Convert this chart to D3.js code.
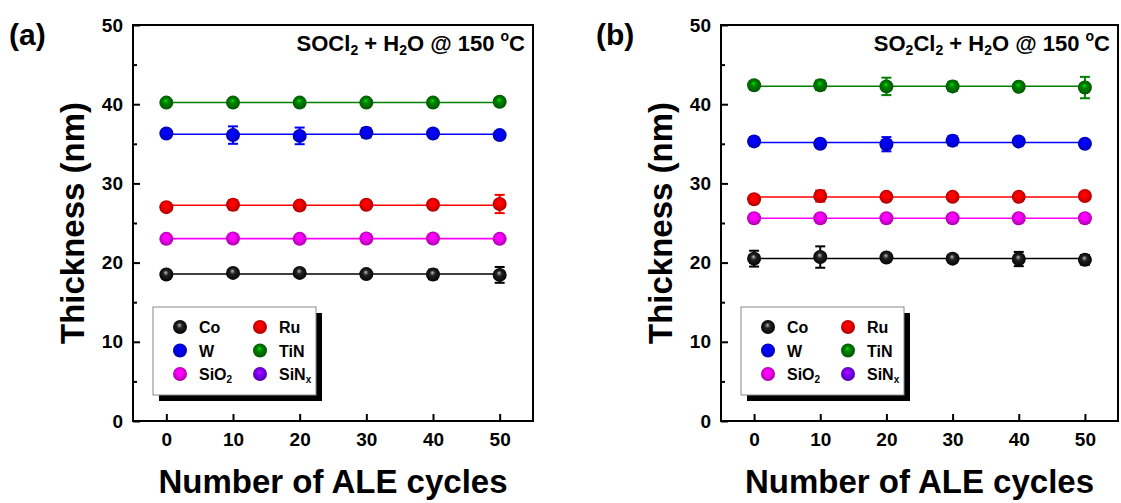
<!DOCTYPE html>
<html>
<head>
<meta charset="utf-8">
<script src="https://cdn.jsdelivr.net/npm/d3@7"></script>
<style>
    body { margin: 0; background: #fff; }
    svg { display: block; font-family: 'Liberation Sans', Arial, sans-serif; font-weight: bold; }
</style>
</head>
<body>
<div id="chart"></div>
<script>
// x values (ALE cycles)
const cycles = [0, 10, 20, 30, 40, 50];
const yTicks = [0, 10, 20, 30, 40, 50];
const yMinorTicks = [5, 15, 25, 35, 45];

// Panel (a): SOCl2 + H2O
const aTiN = [40.2, 40.2, 40.2, 40.2, 40.2, 40.3];
const aTiNErr = [0.3, 0.3, 0.3, 0.3, 0.3, 0.4];
const aW = [36.3, 36.1, 36.0, 36.4, 36.3, 36.1];
const aWErr = [0.3, 1.1, 1.05, 0.6, 0.4, 0.3];
const aRu = [27.0, 27.3, 27.2, 27.3, 27.3, 27.4];
const aRuErr = [0.3, 0.6, 0.4, 0.3, 0.3, 1.15];
const aSiO2 = [23.0, 23.05, 23.0, 23.05, 23.05, 23.0];
const aSiO2Err = [0.3, 0.5, 0.3, 0.5, 0.4, 0.3];
const aCo = [18.5, 18.7, 18.7, 18.55, 18.5, 18.45];
const aCoErr = [0.4, 0.3, 0.3, 0.4, 0.6, 1.0];

// Panel (b): SO2Cl2 + H2O
const bTiN = [42.4, 42.4, 42.25, 42.25, 42.2, 42.1];
const bTiNErr = [0.3, 0.6, 1.1, 0.6, 0.3, 1.35];
const bW = [35.3, 35.0, 34.95, 35.4, 35.3, 35.0];
const bWErr = [0.5, 0.3, 0.9, 0.6, 0.4, 0.3];
const bRu = [28.0, 28.4, 28.3, 28.3, 28.3, 28.4];
const bRuErr = [0.3, 0.7, 0.4, 0.4, 0.4, 0.3];
const bSiO2 = [25.6, 25.6, 25.6, 25.6, 25.6, 25.6];
const bSiO2Err = [0.3, 0.4, 0.3, 0.4, 0.3, 0.3];
const bCo = [20.5, 20.7, 20.65, 20.5, 20.45, 20.35];
const bCoErr = [1.0, 1.35, 0.4, 0.4, 0.9, 0.6];

// legend entries, row by row
const legendNames = ['Co', 'Ru', 'W', 'TiN', 'SiO2', 'SiNx'];

const colors = {
    Co: '#000000',
    Ru: '#ff0000',
    W: '#0000ff',
    TiN: '#008000',
    SiO2: '#ff00ff',
    SiNx: '#8000ff'
};

const width = 1121, height = 503;
const plotTop = 25, plotBottom = 421;

const svg = d3.select('#chart').append('svg')
    .attr('width', width)
    .attr('height', height);

// ball-like marker gradients
const defs = svg.append('defs');
Object.keys(colors).forEach(name => {
    const c = colors[name];
    const g = defs.append('radialGradient')
        .attr('id', `ball-${name}`)
        .attr('cx', '50%').attr('cy', '50%').attr('r', '55%')
        .attr('fx', '45%').attr('fy', '35%');
    g.append('stop').attr('offset', '0%').attr('stop-color', name === 'Co' ? '#bbbbbb' : d3.color(c).brighter(1.6).formatHex());
    g.append('stop').attr('offset', '35%').attr('stop-color', name === 'Co' ? '#222222' : c);
    g.append('stop').attr('offset', '100%').attr('stop-color', d3.color(c).darker(1.3).formatHex());
});

const panels = [
    {
        left: 133, right: 533, label: '(a)', labelX: 9,
        title: [['SOCl', 0], ['2', 1], [' + H', 0], ['2', 1], ['O @ 150 ', 0], ['o', 2], ['C', 0]],
        series: [
            { name: 'TiN', values: aTiN, errors: aTiNErr },
            { name: 'W', values: aW, errors: aWErr },
            { name: 'Ru', values: aRu, errors: aRuErr },
            { name: 'SiO2', values: aSiO2, errors: aSiO2Err },
            { name: 'Co', values: aCo, errors: aCoErr }
        ]
    },
    {
        left: 721, right: 1118, label: '(b)', labelX: 596,
        title: [['SO', 0], ['2', 1], ['Cl', 0], ['2', 1], [' + H', 0], ['2', 1], ['O @ 150 ', 0], ['o', 2], ['C', 0]],
        series: [
            { name: 'TiN', values: bTiN, errors: bTiNErr },
            { name: 'W', values: bW, errors: bWErr },
            { name: 'Ru', values: bRu, errors: bRuErr },
            { name: 'SiO2', values: bSiO2, errors: bSiO2Err },
            { name: 'Co', values: bCo, errors: bCoErr }
        ]
    }
];

// writes text with sub/superscripts: part[1] = 0 normal, 1 sub, 2 super
function richText(sel, parts, big, small) {
    parts.forEach(([t, kind]) => {
        const ts = sel.append('tspan').text(t);
        if (kind === 1) ts.attr('font-size', small).attr('baseline-shift', '-28%');
        if (kind === 2) ts.attr('font-size', small).attr('baseline-shift', '70%');
        if (kind === 0) ts.attr('font-size', big);
    });
}

function legendLabel(name) {
    if (name === 'SiO2') return [['SiO', 0], ['2', 1]];
    if (name === 'SiNx') return [['SiN', 0], ['x', 1]];
    return [[name, 0]];
}

panels.forEach(p => {
    const x = d3.scaleLinear().domain([-5, 55]).range([p.left, p.right]);
    const y = d3.scaleLinear().domain([0, 50]).range([plotBottom, plotTop]);

    const g = svg.append('g');

    // y axis, major + minor ticks pointing inward
    g.append('g')
        .attr('transform', `translate(${p.left},0)`)
        .call(d3.axisLeft(y).tickValues(yTicks).tickSize(-7).tickPadding(10))
        .call(a => a.select('.domain').remove())
        .call(a => a.selectAll('line').attr('stroke-width', 2))
        .call(a => a.selectAll('text').attr('font-size', 19).attr('font-weight', 'bold').attr('fill', '#000'));
    g.append('g')
        .attr('transform', `translate(${p.left},0)`)
        .call(d3.axisLeft(y).tickValues(yMinorTicks).tickSize(-4).tickFormat(''))
        .call(a => a.select('.domain').remove())
        .call(a => a.selectAll('line').attr('stroke-width', 2));

    // x axis
    g.append('g')
        .attr('transform', `translate(0,${plotBottom})`)
        .call(d3.axisBottom(x).tickValues(cycles).tickSize(-7).tickPadding(12))
        .call(a => a.select('.domain').remove())
        .call(a => a.selectAll('line').attr('stroke-width', 2))
        .call(a => a.selectAll('text').attr('font-size', 19).attr('font-weight', 'bold').attr('fill', '#000'));

    // frame
    g.append('rect')
        .attr('x', p.left).attr('y', plotTop)
        .attr('width', p.right - p.left).attr('height', plotBottom - plotTop)
        .attr('fill', 'none').attr('stroke', '#000').attr('stroke-width', 2);

    // axis titles
    g.append('text')
        .attr('transform', `translate(${p.left - 49},${(plotTop + plotBottom) / 2}) rotate(-90)`)
        .attr('text-anchor', 'middle')
        .attr('font-size', 33)
        .text('Thickness (nm)');
    g.append('text')
        .attr('x', (p.left + p.right) / 2).attr('y', 493)
        .attr('text-anchor', 'middle')
        .attr('font-size', 33)
        .text('Number of ALE cycles');

    // panel label
    g.append('text')
        .attr('x', p.labelX).attr('y', 45)
        .attr('font-size', 30)
        .text(p.label);

    // condition text
    richText(g.append('text')
        .attr('x', p.right - 8).attr('y', 51)
        .attr('text-anchor', 'end'), p.title, 22, 14);

    // series
    p.series.forEach(s => {
        const c = colors[s.name];
        const mean = d3.mean(s.values);
        g.append('line')
            .attr('x1', x(cycles[0])).attr('x2', x(cycles[cycles.length - 1]))
            .attr('y1', y(mean)).attr('y2', y(mean))
            .attr('stroke', c).attr('stroke-width', 1.6);

        const pts = cycles.map((cx, i) => ({ x: cx, v: s.values[i], e: s.errors[i] }));
        const eb = g.append('g').attr('stroke', c).attr('stroke-width', 2);
        pts.forEach(d => {
            eb.append('line')
                .attr('x1', x(d.x)).attr('x2', x(d.x))
                .attr('y1', y(d.v - d.e)).attr('y2', y(d.v + d.e));
            [d.v - d.e, d.v + d.e].forEach(v => {
                eb.append('line')
                    .attr('x1', x(d.x) - 5).attr('x2', x(d.x) + 5)
                    .attr('y1', y(v)).attr('y2', y(v));
            });
        });

        g.selectAll(null)
            .data(pts)
            .enter().append('circle')
            .attr('cx', d => x(d.x))
            .attr('cy', d => y(d.v))
            .attr('r', 7)
            .attr('fill', `url(#ball-${s.name})`);
    });

    // legend with drop shadow
    const lx = p.left + 20, ly = 307, lw = 163, lh = 88;
    g.append('rect')
        .attr('x', lx + 6).attr('y', ly + 6)
        .attr('width', lw).attr('height', lh)
        .attr('fill', '#000');
    g.append('rect')
        .attr('x', lx).attr('y', ly)
        .attr('width', lw).attr('height', lh)
        .attr('fill', '#fff').attr('stroke', '#888').attr('stroke-width', 1);

    legendNames.forEach((name, i) => {
        const col = i % 2, row = Math.floor(i / 2);
        const mx = lx + (col === 0 ? 27 : 107);
        const my = ly + 20 + row * 23.5;
        g.append('circle')
            .attr('cx', mx).attr('cy', my).attr('r', 7)
            .attr('fill', `url(#ball-${name})`);
        richText(g.append('text')
            .attr('x', mx + 19).attr('y', my + 6), legendLabel(name), 16, 10);
    });
});
</script>
</body>
</html>
